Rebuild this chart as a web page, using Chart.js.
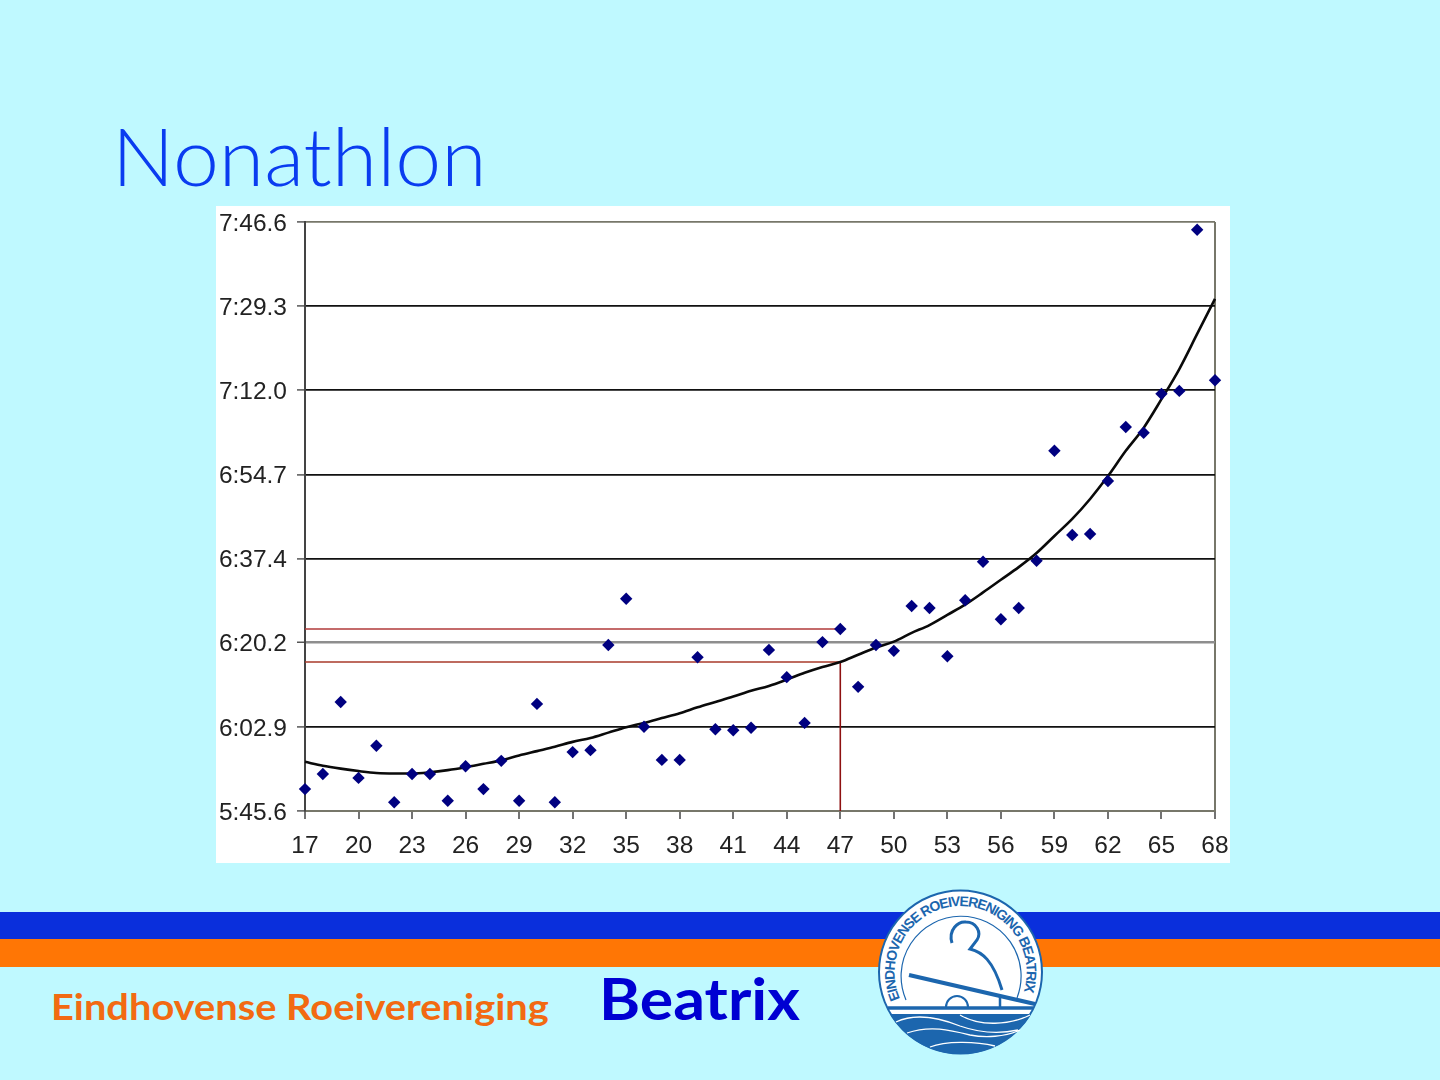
<!DOCTYPE html>
<html>
<head>
<meta charset="utf-8">
<title>Nonathlon</title>
<script src="https://cdn.jsdelivr.net/npm/chart.js@4"></script>
<style>
html,body{margin:0;padding:0;width:1440px;height:1080px;overflow:hidden;background:#bff9ff;}
#title{position:absolute;left:112px;top:105px;font:300 80px Lato,sans-serif;color:#0a3cf0;line-height:100px;white-space:nowrap;transform:scaleX(1.03);transform-origin:left top;}
#box{position:absolute;left:216px;top:206px;width:1014px;height:657px;background:#fff;}
#c{display:block;}
.band{position:absolute;left:0;width:1440px;}
#club{position:absolute;left:51px;top:981px;font:700 36px Lato,sans-serif;color:#f26a12;line-height:50px;white-space:nowrap;transform:scaleX(1.105);transform-origin:left top;}
#name{position:absolute;left:599px;top:960px;font:700 58px Lato,sans-serif;color:#0000d2;line-height:76px;white-space:nowrap;transform:scaleX(1.08);transform-origin:left top;}
#logo{position:absolute;left:860px;top:880px;}
</style>
</head>
<body>
<div id="title">Nonathlon</div>
<div id="box"><canvas id="c" width="1014" height="657"></canvas></div>
<div class="band" style="top:912px;height:27px;background:#0a2fdc"></div>
<div class="band" style="top:939px;height:28px;background:#ff7605"></div>
<div id="club">Eindhovense Roeivereniging</div>
<div id="name">Beatrix</div>
<svg id="logo" width="200" height="190" viewBox="0 0 200 190">
  <defs><path id="ring" d="M40.2,118.8 A66,66 0 1 1 163,113.5"/></defs>
  <circle cx="100.5" cy="92" r="81.5" fill="#fff" stroke="#1c66ae" stroke-width="2"/>
  <text font-family="Liberation Sans,Arial,sans-serif" font-weight="700" font-size="14" fill="#1c66ae"><textPath href="#ring" textLength="254" lengthAdjust="spacing">EINDHOVENSE ROEIVERENIGING BEATRIX</textPath></text>
  <path d="M46,120 A60,60 0 1 1 157,118" fill="none" stroke="#1c66ae" stroke-width="1.2"/>
  <path d="M92,63 C88,50 98,41 106,42 C116,42 122,52 117,60 L110,69 C122,72 133,80 142,110" fill="none" stroke="#1c66ae" stroke-width="3"/>
  <path d="M49,95 L175,124" fill="none" stroke="#1c66ae" stroke-width="4"/>
  <path d="M28,128 L173,128" fill="none" stroke="#1c66ae" stroke-width="3.5"/>
  <path d="M86,127 A11,11 0 0 1 108,127" fill="none" stroke="#1c66ae" stroke-width="2"/>
  <path d="M140,115 L140,128" fill="none" stroke="#1c66ae" stroke-width="2.5"/>
  <path d="M30,134 A82,82 0 0 0 171,134 Z" fill="#1c66ae"/>
  <path d="M36,142 C55,133 80,138 100,146 C120,153 140,154 158,150" fill="none" stroke="#fff" stroke-width="1.3"/>
  <path d="M100,135 C120,147 150,145 170,135" fill="none" stroke="#fff" stroke-width="1.3"/>
  <path d="M47,153 C70,145 90,150 110,155 C125,158 145,157 160,150" fill="none" stroke="#fff" stroke-width="1.3"/>
  <path d="M70,167 C85,161 115,161 135,166" fill="none" stroke="#fff" stroke-width="1.3"/>
</svg>
<script>
const ages = [17,18,19,20,21,22,23,24,25,26,27,28,29,30,31,32,33,34,35,36,37,38,39,40,41,42,43,44,45,46,47,48,49,50,51,52,53,54,55,56,57,58,59,60,61,62,63,64,65,66,67,68];
const times = [350.1,353.2,368.0,352.4,359.0,347.4,353.2,353.2,347.7,354.8,350.1,355.9,347.7,367.6,347.4,357.7,358.1,379.7,389.2,362.9,356.1,356.1,377.2,362.4,362.2,362.7,378.7,373.1,363.7,380.3,383.0,371.1,379.7,378.5,387.7,387.3,377.4,388.9,396.8,385.0,387.3,397.0,419.6,402.3,402.5,413.4,424.5,423.3,431.3,431.9,465.0,434.1];
const trend = [355.7,354.9,354.3,353.8,353.4,353.3,353.3,353.55,354.0,354.6,355.3,356.0,357.0,357.9,358.8,359.8,360.6,361.7,362.8,363.7,364.7,365.7,366.9,368.0,369.1,370.3,371.3,372.6,374.0,375.2,376.2,377.7,379.2,380.4,382.2,383.8,385.9,388.0,390.5,393.1,395.7,398.6,402.1,405.6,409.7,414.4,419.6,424.3,430.2,436.4,443.6,450.8];
const yTickValues = [345.6,362.886,380.171,397.457,414.743,432.029,449.314,466.6];
const yTickLabels = ["5:45.6","6:02.9","6:20.2","6:37.4","6:54.7","7:12.0","7:29.3","7:46.6"];
const refX = [17,47];
const refUpper = [383.0,383.0];
const refLower = [376.2,376.2];
const refDropX = [47,47];
const refDropY = [345.6,376.2];

const pairs = (xs, ys) => xs.map((x,i)=>({x, y:ys[i]}));
const FRAME = '#77776a';
const line = (xs, ys, color, w) => ({type:'line', data:pairs(xs,ys), borderColor:color, borderWidth:w, pointRadius:0, fill:false, tension:0, clip:false});

new Chart(document.getElementById('c'), {
  type:'scatter',
  data:{datasets:[
    {data:pairs(ages,times), pointStyle:'rectRot', pointRadius:6.2, pointHoverRadius:6.2, backgroundColor:'#000080', borderColor:'#000080', borderWidth:0, showLine:false, clip:false},
    Object.assign(line(ages,trend,'#0a0a0a',2.6),{cubicInterpolationMode:'monotone'}),
    line(refX,refUpper,'#b03a3a',1.6),
    line(refX,refLower,'#a83a2a',1.6),
    line(refDropX,refDropY,'#8e1010',1.6)
  ]},
  options:{
    responsive:false, animation:false, devicePixelRatio:1,
    layout:{autoPadding:false, padding:{top:16,right:15,left:0,bottom:0}},
    plugins:{legend:{display:false},tooltip:{enabled:false},title:{display:false}},
    scales:{
      x:{type:'linear',min:17,max:68,
        afterFit(s){s.height=52;s.paddingLeft=0;s.paddingRight=0;s.paddingTop=0;s.paddingBottom=0;},
        border:{color:FRAME,width:2},
        grid:{drawOnChartArea:true,color:c=>c.tick&&c.tick.value===68?FRAME:'transparent',lineWidth:2,tickColor:'#444',tickLength:8,tickWidth:1.5},
        ticks:{stepSize:3,autoSkip:false,maxRotation:0,padding:13,color:'#222',font:{family:'Liberation Sans',size:24.5}}},
      y:{type:'linear',min:345.6,max:466.6,
        afterFit(s){s.width=89;s.paddingLeft=0;s.paddingRight=0;s.paddingTop=0;s.paddingBottom=0;},
        afterBuildTicks(s){s.ticks=yTickValues.map(v=>({value:v}));},
        border:{color:'#444',width:2},
        grid:{color:c=>{const i=c.index;return i===0||i===7?FRAME:(i===2?'#8e8e8e':'#111');},
              lineWidth:c=>c.index===2?2.5:1.8,tickColor:'#555',tickLength:8,tickWidth:1.5},
        ticks:{padding:10,labelOffset:2,color:'#222',font:{family:'Liberation Sans',size:24.5},callback:(v,i)=>yTickLabels[i]}}
    }
  }
});
</script>
</body>
</html>
